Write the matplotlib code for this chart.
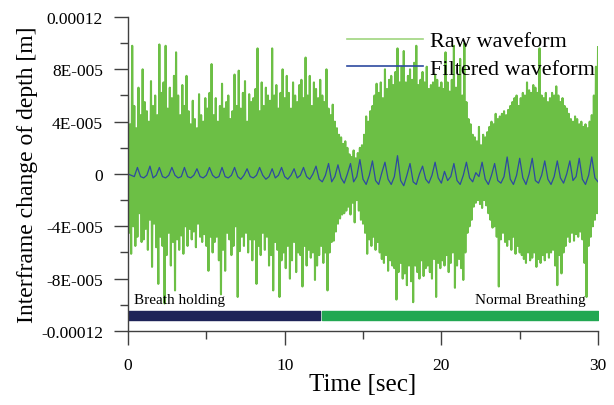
import numpy as np
import matplotlib
matplotlib.use("Agg")
import matplotlib.pyplot as plt
from matplotlib.ticker import MultipleLocator

plt.rcParams['font.family'] = ['Liberation Serif', 'DejaVu Serif']

# raw waveform, 15 samples per second, values in micrometres
raw_um = [
    60, -45, 38, -61, 98, -40, 52, -55, 35, -48, 66, -30, 45, -52, 80,
    -50, 55, -42, 48, -58, 40, -35, 71, -71, 52, -38, 60, -56, 45, -84,
    99, -48, 62, -55, 70, -99, 98, -62, 50, -45, 66, -70, 58, -52, 75,
    -89, 93, -50, 60, -58, 45, -47, 68, -61, 52, -40, 75, -55, 48, -42,
    38, -50, 56, -44, 42, -56, 35, -38, 61, -48, 45, -52, 40, -46, 58,
    -55, 50, -74, 62, -48, 84, -60, 45, -52, 58, -48, 40, -66, 52, -92,
    69, -58, 50, -74, 55, -45, 60, -50, 42, -62, 48, -55, 76, -40, 52,
    -94, 79, -59, 50, -48, 62, -55, 71, -45, 40, -60, 61, -50, 55, -66,
    58, -50, 65, -84, 96, -55, 48, -62, 70, -45, 52, -58, 66, -48, 60,
    -70, 56, -62, 96, -89, 60, -52, 68, -58, 50, -94, 62, -66, 80, -60,
    58, -72, 75, -55, 62, -80, 50, -66, 70, -52, 60, -75, 55, -60, 68,
    -62, 72, -86, 58, -55, 89, -70, 60, -58, 75, -64, 52, -60, 70, -81,
    65, -70, 58, -62, 72, -55, 60, -68, 55, -60, 80, -89, 50, -60, 45,
    -52, 53, -51, 40, -44, 35, -38, 30, -34, 28, -31, 23, -30, 25, -28,
    20, -25, 15, -31, 13, -22, 18, -37, 12, -20, 16, -28, 20, -35, 22,
    -38, 30, -45, 44, -61, 40, -50, 48, -55, 52, -48, 60, -58, 69, -52,
    62, -60, 70, -65, 58, -68, 80, -62, 65, -74, 72, -66, 75, -70, 68,
    -72, 78, -96, 96, -75, 70, -68, 82, -80, 94, -76, 70, -85, 75, -70,
    80, -82, 72, -98, 85, -70, 98, -75, 68, -80, 72, -66, 78, -78, 70,
    -72, 82, -70, 65, -75, 68, -80, 70, -65, 76, -94, 72, -68, 66, -72,
    70, -66, 65, -70, 93, -62, 70, -75, 63, -68, 72, -60, 98, -87, 66,
    -70, 75, -65, 88, -72, 60, -81, 100, -60, 55, -45, 42, -40, 38, -35,
    30, -25, 28, -22, 25, -20, 36, -23, 22, -26, 30, -20, 28, -24, 32,
    -30, 36, -35, 40, -41, 38, -40, 46, -48, 42, -86, 44, -50, 46, -45,
    48, -52, 45, -55, 49, -50, 52, -58, 55, -48, 58, -61, 60, -55, 52,
    -60, 58, -62, 62, -65, 60, -68, 70, -60, 64, -66, 62, -64, 68, -60,
    66, -71, 62, -65, 96, -68, 60, -62, 58, -66, 62, -60, 55, -64, 58,
    -60, 62, -58, 60, -70, 67, -85, 60, -62, 55, -76, 58, -60, 52, -55,
    50, -48, 46, -52, 42, -45, 40, -51, 44, -46, 42, -48, 38, -44, 40,
    -50, 36, -68, 38, -94, 35, -55, 40, -48, 45, -40, 60, -35, 82, -30,
    97,
]

# filtered waveform, 5 samples per second, micrometres
filt_um = [
    0, -1, -2,
    5, -2, -3, -1,
    6, -3, -1,
    5, -2, -3, -1,
    5, -1, -3, -2,
    5, -2, -3, -1,
    4, -2, -3, -1,
    5, -1, -3, -2,
    5, -2, -3, -1,
    5, -2, -4, -1,
    4, -2, -3, -1,
    5, -1, -4, -2,
    4, -3, -1,
    5, -2, -4, -1,
    4, -3, -1,
    5, -2, -4, 0,
    6, -4, -6, -1,
    8, -6, -2,
    7, -3, -7, 0,
    8, -6, -2,
    11, -4, -8, -1,
    10, -5, -8, 1,
    9, -4, -8, -2,
    14, -5, -9, -1,
    8, -6, -8, 0,
    6, -4, -7, -1,
    9, -3, -7, 2, -5, -2,
    8, -5, -8, -1,
    9, -3, -6, 1, -2,
    9, -4, -8, -1,
    8, -5, -7, -2,
    13, -4, -8, -1,
    12, -3, -8, 0,
    12, -5, -7, -1,
    10, -4, -8, -2,
    10, -3, -7, 0,
    10, -5, -2,
    12, -4, -8, -1,
    13, -3, -6,
]

phase_names = ["Breath holding", "Normal Breathing"]
phase_start = [0, 12.4]
phase_end = [12.25, 30]
phase_colors = ["#1e2358", "#22a852"]

ytick_vals = [-0.00012, -0.00008, -0.00004, 0, 0.00004, 0.00008, 0.00012]
ytick_text = ["-0.00012", "-8E-005", "-4E-005", "0", "4E-005", "8E-005", "0.00012"]

raw = np.array(raw_um) * 1e-6
filt = np.array(filt_um) * 1e-6
t_raw = np.linspace(0, 30, len(raw))
t_filt = np.linspace(0, 30, len(filt))

fig = plt.figure(figsize=(6.14, 4.06), dpi=100)
ax = fig.add_axes([0.2085, 0.1823, 0.7655, 0.7734])

ax.plot(t_raw, raw, color="#6cbf45", lw=1.5, label="Raw waveform")
ax.plot(t_filt, filt, color="#2d4aa0", lw=0.9, label="Filtered waveform")

for s, e, c in zip(phase_start, phase_end, phase_colors):
    ax.broken_barh([(s, e - s)], (-0.0001115, 0.0000068), color=c)
ax.text(0.35, -0.000096, phase_names[0], fontsize=11, va="center", ha="left")
ax.text(29.2, -0.000096, phase_names[1], fontsize=11, va="center", ha="right")

ax.set_xlim(0, 30)
ax.set_ylim(-0.00012, 0.00012)
ax.set_xticks([0, 10, 20, 30])
ax.xaxis.set_minor_locator(MultipleLocator(5))
ax.set_yticks(ytick_vals)
ax.set_yticklabels(ytick_text)
ax.yaxis.set_minor_locator(MultipleLocator(0.00002))
ax.tick_params(which="major", length=10, width=1, color="#404040", labelsize=12.5, pad=8)
ax.tick_params(which="minor", length=5.5, width=1, color="#404040")
ax.tick_params(axis="x", pad=9)

for side in ["top", "right"]:
    ax.spines[side].set_visible(False)
for side in ["left", "bottom"]:
    ax.spines[side].set_color("#404040")
    ax.spines[side].set_linewidth(1)

ax.set_xlabel("Time [sec]", fontsize=18, labelpad=0)
ax.set_ylabel("Interframe change of depth [m]", fontsize=17, labelpad=2)

leg = ax.legend(loc="upper left", bbox_to_anchor=(0.466, 0.956), frameon=False,
                fontsize=16, handlelength=3.4, handletextpad=0.35, labelspacing=0.33,
                borderpad=0, borderaxespad=0)
leg.get_lines()[0].set_linewidth(1.2)
leg.get_lines()[0].set_color("#9fd67f")
leg.get_lines()[1].set_linewidth(1.2)

fig.savefig("out.png", dpi=100)
